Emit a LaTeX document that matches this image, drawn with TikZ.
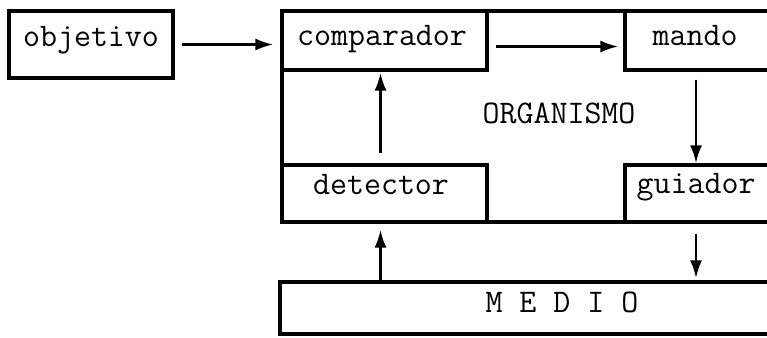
\documentclass[tikz,border=0pt]{standalone}
\usepackage{fontspec}
\usetikzlibrary{arrows.meta,calc}
\begin{document}
\begin{tikzpicture}[x=1pt,y=-1pt,
  box/.style={draw, line width=3.2pt, rectangle, inner sep=0pt},
  lbl/.style={font=\fontsize{33}{36}\selectfont\ttfamily, inner sep=0pt, text height=0.62em, text depth=0.2em},
  arr/.style={line width=2.8pt, -{Latex[length=18pt,width=12pt]}}]
\useasboundingbox (0,0) rectangle (767,337);
\clip (0,0) rectangle (767,337);
% boxes
\node[box, minimum width=518pt, minimum height=211pt] (org) at (541,116.5) {};
\node[box, minimum width=164pt, minimum height=67pt] (obj) at (91,44.5) {};
\node[box, minimum width=205pt, minimum height=59pt] (comp) at (384.5,40.5) {};
\node[box, minimum width=175pt, minimum height=59pt] (mando) at (712.5,40.5) {};
\node[box, minimum width=205pt, minimum height=57pt] (det) at (384.5,193.5) {};
\node[box, minimum width=175pt, minimum height=57pt] (guia) at (712.5,193.5) {};
\node[box, minimum width=520pt, minimum height=52pt] (medio) at (540,308) {};
% labels
\node[lbl] (objl) at (91,44) {objetivo};
\node[lbl] (compl) at (382,43) {comparador};
\node[lbl] (mandol) at (695,43) {mando};
\node[lbl] (orgl) at (559,121) {ORGANISMO};
\node[lbl] (detl) at (381,192) {detector};
\node[lbl] (guial) at (696,191) {guiador};
\node[lbl] (mediol) at (562,310) {M E D I O};
% connectors
\draw[arr, shorten <=7pt, shorten >=7pt] (obj.east) -- (obj.east -| comp.west);
\draw[arr, shorten <=7pt, shorten >=5pt] ($(comp.east)+(0,6)$) -- ($(comp.east -| mando.west)+(0,6)$);
\draw[arr, shorten <=10pt, shorten >=1pt] ($(det.north)+(-4,0)$) -- ($(comp.south)+(-4,0)$);
\draw[arr, shorten <=8pt, shorten >=0pt] (mando.south -| guial) -- (guia.north -| guial);
\draw[arr, shorten >=6pt] ($(medio.north -| det)+(-4,0)$) -- ($(det.south)+(-4,0)$);
\draw[arr, shorten <=10pt, shorten >=2pt] (guia.south -| guial) -- (medio.north -| guial);
\end{tikzpicture}
\end{document}
